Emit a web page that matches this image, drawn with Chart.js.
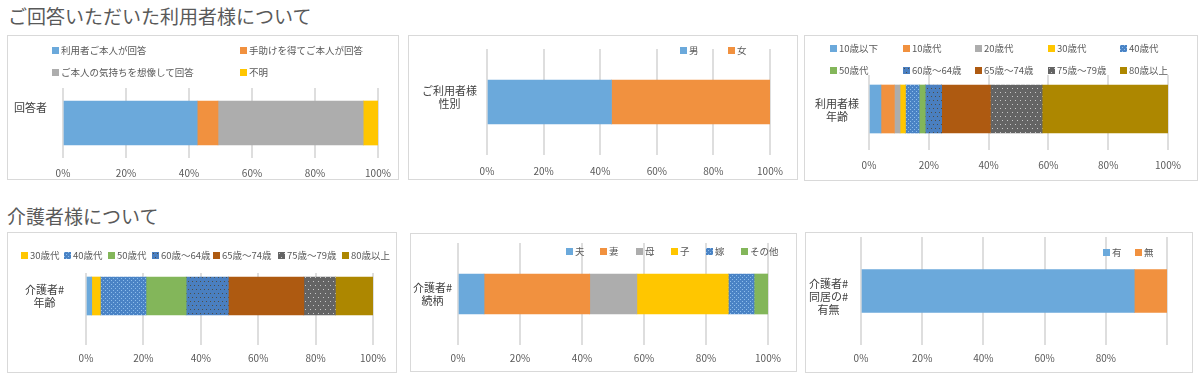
<!DOCTYPE html>
<html lang="ja">
<head>
  <meta charset="UTF-8">
  <title>ご回答いただいた利用者様について / 介護者様について</title>
  <script src="https://cdn.jsdelivr.net/npm/chart.js"></script>
  <style>
    body {
      margin: 0;
      width: 1200px;
      height: 380px;
      position: relative;
      overflow: hidden;
      background: #ffffff;
      font-family: 'Noto Sans CJK JP', sans-serif;
      color: #595959;
    }
    h2 {
      position: absolute;
      margin: 0;
      font-size: 19px;
      font-weight: normal;
      line-height: 20px;
      color: #595959;
      white-space: nowrap;
    }
    .panel {
      position: absolute;
      outline: 1px solid #d9d9d9;
      outline-offset: -1px;
    }
    .panel > canvas {
      position: absolute;
      left: 0;
      top: 0;
    }
    .legend-item {
      position: absolute;
      display: flex;
      align-items: center;
      font-size: 9.5px;
      line-height: 12px;
      white-space: nowrap;
      transform: translateY(-50%);
      color: #595959;
    }
    .legend-item canvas {
      width: 7px;
      height: 7px;
      margin-right: 2px;
    }
  </style>
</head>
<body>
  <h2 style="left:8px; top:6px;">ご回答いただいた利用者様について</h2>
  <h2 style="left:7px; top:206px;">介護者様について</h2>

  <script>
    // --- data (percent of respondents) ---
    const respCategory = ['回答者'];
    const respSeries = ['利用者ご本人が回答', '手助けを得てご本人が回答', 'ご本人の気持ちを想像して回答', '不明'];
    const respValues = [42.6, 6.6, 46.1, 4.7];

    const sexCategory = ['ご利用者様', '性別'];
    const sexSeries = ['男', '女'];
    const sexValues = [44.0, 56.0];

    const ageCategory = ['利用者様', '年齢'];
    const ageSeries = ['10歳以下', '10歳代', '20歳代', '30歳代', '40歳代', '50歳代', '60歳～64歳', '65歳～74歳', '75歳～79歳', '80歳以上'];
    const ageValues = [4.0, 4.5, 1.9, 1.8, 4.6, 2.0, 5.5, 16.3, 17.3, 42.1];

    const cgAgeCategory = ['介護者#', '年齢'];
    const cgAgeSeries = ['20歳代', '30歳代', '40歳代', '50歳代', '60歳～64歳', '65歳～74歳', '75歳～79歳', '80歳以上'];
    const cgAgeValues = [2.0, 3.0, 15.9, 14.0, 14.7, 26.3, 11.0, 13.1];

    const relCategory = ['介護者#', '続柄'];
    const relSeries = ['夫', '妻', '母', '子', '嫁', 'その他'];
    const relValues = [8.4, 34.1, 15.2, 29.5, 8.3, 4.5];

    const cohCategory = ['介護者#', '同居の#', '有無'];
    const cohSeries = ['有', '無'];
    const cohValues = [89.3, 10.7];

    const xTicks = [0, 20, 40, 60, 80, 100];

    // --- styles ---
    const FONT = "'Noto Sans CJK JP', sans-serif";
    const GRID = '#dedede';

    function dotTile(w, h, bg, dot, pts) {
      const c = document.createElement('canvas');
      c.width = w; c.height = h;
      const g = c.getContext('2d');
      g.fillStyle = bg;
      g.fillRect(0, 0, w, h);
      g.fillStyle = dot;
      pts.forEach(([x, y]) => g.fillRect(x, y, 1, 1));
      return c;
    }

    // Excel-like palette, some entries are dotted patterns
    const palette = [
      { color: '#6BA9DB' },
      { color: '#F1913F' },
      { color: '#ADADAD' },
      { color: '#FFC600' },
      { tile: dotTile(4, 4, '#4A83C5', '#8DBDEB', [[0, 0], [2, 2]]) },
      { color: '#83B65A' },
      { tile: dotTile(8, 8, '#4A7FC0', '#4E4E48', [[1, 1], [5, 1], [3, 5], [7, 5]]) },
      { color: '#AE5A11' },
      { tile: dotTile(10, 8, '#646464', '#C8C8C8', [[1, 1], [6, 1], [3, 5], [8, 5]]) },
      { color: '#AD8700' }
    ];

    function fillFor(ctx, idx) {
      const p = palette[idx];
      return p.tile ? ctx.createPattern(p.tile, 'repeat') : p.color;
    }

    // --- panel layout (page pixels) ---
    const panels = [
      { category: respCategory, series: respSeries, values: respValues, colors: [0, 1, 2, 3],
        box: { x: 7, y: 35, w: 392, h: 145 }, plot: { l: 63, r: 378, t: 88, b: 158 },
        tickLen: 0, tickY: 173, bar: 44, catPad: 16, catOffset: -15,
        legend: { cols: [45, 233], rows: [15, 37] } },
      { category: sexCategory, series: sexSeries, values: sexValues, colors: [0, 1],
        box: { x: 408, y: 35, w: 390, h: 145 }, plot: { l: 487, r: 770, t: 49, b: 155 },
        tickLen: 0, tickY: 171, bar: 44, catPad: 10, catOffset: -5,
        legend: { cols: [272, 320], rows: [15] } },
      { category: ageCategory, series: ageSeries, values: ageValues, colors: [0, 1, 2, 3, 4, 5, 6, 7, 8, 9],
        box: { x: 804, y: 35, w: 394, h: 146 }, plot: { l: 869, r: 1168, t: 75, b: 143 },
        tickLen: 7, tickY: 165, bar: 48, catPad: 10, catOffset: 1,
        legend: { cols: [26, 99, 171, 244, 316], rows: [13, 35] } },
      { category: cgAgeCategory, series: cgAgeSeries, values: cgAgeValues, colors: [0, 3, 4, 5, 6, 7, 8, 9],
        box: { x: 7, y: 232, w: 390, h: 141 }, plot: { l: 86, r: 373, t: 273, b: 319 },
        tickLen: 26, tickY: 358, bar: 38, catPad: 22, catOffset: 0, legendSkip: 1,
        legend: { cols: [14, 57, 101, 145, 206, 271, 335], rows: [23] } },
      { category: relCategory, series: relSeries, values: relValues, colors: [0, 1, 2, 3, 4, 5],
        box: { x: 410, y: 233, w: 387, h: 139 }, plot: { l: 458, r: 768, t: 243, b: 345 },
        tickLen: 0, tickY: 358, bar: 40, catPad: 6, catOffset: 0,
        legend: { cols: [156, 190, 226, 261, 296, 331], rows: [18] } },
      { category: cohCategory, series: cohSeries, values: cohValues, colors: [0, 1],
        box: { x: 805, y: 232, w: 388, h: 141 }, plot: { l: 861, r: 1167, t: 237, b: 345 },
        tickLen: 0, tickY: 358, bar: 43, catPad: 13, catOffset: 6, hideLast: true,
        legend: { cols: [298, 330], rows: [20] } }
    ];

    function buildPanel(p) {
      const wrap = document.createElement('div');
      wrap.className = 'panel';
      Object.assign(wrap.style, {
        left: p.box.x + 'px', top: p.box.y + 'px',
        width: p.box.w + 'px', height: p.box.h + 'px'
      });
      const canvas = document.createElement('canvas');
      canvas.width = p.box.w;
      canvas.height = p.box.h;
      wrap.appendChild(canvas);
      document.body.appendChild(wrap);

      const ctx = canvas.getContext('2d');
      const datasets = p.series.map((name, i) => ({
        label: name,
        data: [p.values[i]],
        backgroundColor: fillFor(ctx, p.colors[i]),
        borderWidth: 0,
        barThickness: p.bar
      }));

      const xPad = (p.tickY - 6) - (p.plot.b + p.tickLen);

      new Chart(ctx, {
        type: 'bar',
        data: { labels: [p.category], datasets: datasets },
        options: {
          indexAxis: 'y',
          responsive: false,
          animation: false,
          events: [],
          layout: {
            padding: { left: 0, top: p.plot.t - p.box.y, right: p.box.x + p.box.w - p.plot.r, bottom: 0 }
          },
          plugins: { legend: { display: false }, tooltip: { enabled: false } },
          scales: {
            x: {
              stacked: true,
              min: 0,
              max: 100,
              afterBuildTicks: (s) => { s.ticks = xTicks.map(v => ({ value: v })); },
              ticks: {
                color: '#595959',
                font: { size: 10, family: FONT },
                padding: xPad,
                maxRotation: 0,
                callback: (v) => (p.hideLast && v === 100) ? '' : v + '%'
              },
              grid: {
                color: GRID,
                lineWidth: 2,
                drawTicks: p.tickLen > 0,
                tickLength: p.tickLen,
                tickColor: GRID
              },
              border: { display: false },
              afterFit: (s) => {
                s.height = p.box.y + p.box.h - p.plot.b;
                s.paddingLeft = 0; s.paddingRight = 0;
              }
            },
            y: {
              stacked: true,
              ticks: {
                color: '#404040',
                font: { size: 11, family: FONT },
                padding: p.catPad,
                crossAlign: 'center',
                labelOffset: p.catOffset
              },
              grid: { display: false, drawTicks: false },
              border: { display: false },
              afterFit: (s) => {
                s.width = p.plot.l - p.box.x;
                s.paddingTop = 0; s.paddingBottom = 0;
              }
            }
          }
        }
      });

      // legend as html, laid out on a fixed grid like the original
      const skip = p.legendSkip || 0;
      const nCols = p.legend.cols.length;
      p.series.slice(skip).forEach((name, k) => {
        const i = k + skip;
        const item = document.createElement('div');
        item.className = 'legend-item';
        item.style.left = p.legend.cols[k % nCols] + 'px';
        item.style.top = p.legend.rows[Math.floor(k / nCols)] + 'px';
        const sw = document.createElement('canvas');
        sw.width = 7; sw.height = 7;
        const sctx = sw.getContext('2d');
        sctx.fillStyle = fillFor(sctx, p.colors[i]);
        sctx.fillRect(0, 0, 7, 7);
        item.appendChild(sw);
        item.appendChild(document.createTextNode(name));
        wrap.appendChild(item);
      });
    }

    panels.forEach(buildPanel);
  </script>
</body>
</html>
